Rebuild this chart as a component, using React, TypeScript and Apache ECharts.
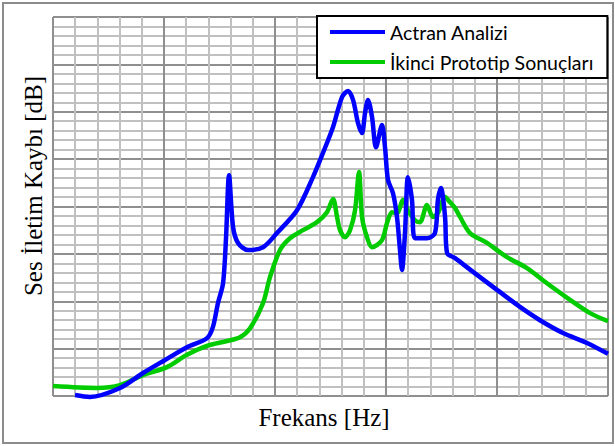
import React, { useEffect, useRef } from "react";
import * as echarts from "echarts";

const seriesNames = ["Actran Analizi", "İkinci Prototip Sonuçları"];

const actranFreq = [198, 333, 604, 811, 1009, 1207, 1387, 1441, 1486, 1532, 1559, 1586, 1622, 1667, 1757, 1892, 2018, 2198, 2342, 2432, 2523, 2604, 2658, 2703, 2748, 2784, 2811, 2838, 2874, 2910, 2964, 2991, 3018, 3063, 3099, 3126, 3144, 3171, 3198, 3234, 3261, 3369, 3441, 3468, 3495, 3532, 3550, 3622, 3784, 4000, 4207, 4387, 4595, 4811, 5000];
const actranTL = [0.2, -0.2, 1.7, 4.85, 7.6, 10.3, 12.2, 14.6, 19.6, 23.8, 33.5, 46.6, 35.7, 32.3, 30.8, 31.4, 34.4, 39.2, 46.2, 51.3, 56.8, 63.1, 64.4, 62.5, 57.6, 55.5, 59.7, 62.5, 58.9, 52.5, 57.2, 52.5, 45.6, 42.8, 37.8, 30.8, 26.6, 34.4, 46.2, 41.4, 33.3, 33.3, 34.4, 41.4, 43.9, 37.8, 30.2, 29.1, 26.2, 22.4, 18.8, 16.0, 13.3, 11.2, 8.9];

const prototypeFreq = [0, 396, 604, 811, 1027, 1207, 1387, 1568, 1685, 1775, 1892, 1955, 2045, 2135, 2252, 2378, 2468, 2523, 2559, 2586, 2631, 2676, 2721, 2757, 2784, 2829, 2874, 2964, 3009, 3054, 3099, 3153, 3198, 3261, 3306, 3369, 3423, 3468, 3532, 3577, 3622, 3667, 3757, 3910, 4090, 4270, 4450, 4658, 4838, 5000];
const prototypeTL = [2.1, 1.7, 2.3, 4.4, 6.1, 8.7, 10.6, 11.6, 12.4, 14.3, 19.6, 25.1, 30.8, 33.3, 35.0, 36.7, 38.8, 41.6, 37.8, 35.0, 33.5, 35.0, 39.2, 47.3, 37.8, 33.5, 31.4, 32.9, 36.5, 38.8, 38.6, 41.4, 39.2, 37.1, 36.7, 40.3, 37.8, 38.6, 42.0, 40.9, 39.7, 37.8, 34.4, 32.3, 29.3, 27.0, 23.8, 20.3, 17.5, 15.8];

const xTitle = "Frekans [Hz]";
const yTitle = "Ses İletim Kaybı [dB]";

const pair = (xs: number[], ys: number[]) => xs.map((x, i) => [x, ys[i]]);

export default function App() {
  const ref = useRef<HTMLDivElement>(null);
  useEffect(() => {
    if (!ref.current) return;
    const chart = echarts.init(ref.current, null, { renderer: "svg" });
    const axisCommon = {
      type: "value" as const,
      axisLabel: { show: false },
      axisTick: { show: false },
      axisLine: { show: false },
      splitLine: { show: true, lineStyle: { color: "#8f8f8f", width: 2 } },
      minorTick: { show: false, splitNumber: 5 },
      minorSplitLine: { show: true, lineStyle: { color: "#c0c0c0", width: 2 } },
    };
    chart.setOption({
      animation: false,
      backgroundColor: "#ffffff",
      grid: { left: 53, top: 17, right: 7, bottom: 50, containLabel: false },
      xAxis: { ...axisCommon, min: 0, max: 5000, interval: 1000 },
      yAxis: { ...axisCommon, min: 0, max: 80, interval: 10 },
      legend: {
        orient: "vertical",
        left: 317,
        top: 16,
        padding: [1, 14, 1, 13],
        itemGap: 0,
        itemWidth: 55,
        itemHeight: 4,
        backgroundColor: "#ffffff",
        borderColor: "#000000",
        borderWidth: 2,
        borderRadius: 0,
        textStyle: { fontFamily: "Lato", fontSize: 19.5, color: "#000000", lineHeight: 30, height: 30 },
        data: [
          { name: seriesNames[0], icon: "rect" },
          { name: seriesNames[1], icon: "rect" },
        ],
        z: 10,
      },
      graphic: [
        {
          type: "rect",
          shape: { x: 3, y: 3, width: 610, height: 440 },
          style: { fill: "none", stroke: "#8c8c8c", lineWidth: 2 },
          silent: true,
        },
        {
          type: "text",
          x: 324,
          y: 417,
          style: {
            text: xTitle,
            font: '25px "Liberation Serif", "Times New Roman", serif',
            fill: "#000000",
            align: "center",
            verticalAlign: "middle",
          },
        },
        {
          type: "text",
          x: 33,
          y: 186,
          rotation: Math.PI / 2,
          style: {
            text: yTitle,
            font: '25px "Liberation Serif", "Times New Roman", serif',
            fill: "#000000",
            align: "center",
            verticalAlign: "middle",
          },
        },
      ],
      series: [
        {
          name: seriesNames[0],
          type: "line",
          data: pair(actranFreq, actranTL),
          showSymbol: false,
          smooth: 0.3,
          clip: false,
          color: "#0000ff",
          lineStyle: { color: "#0000ff", width: 4.5 },
          z: 3,
        },
        {
          name: seriesNames[1],
          type: "line",
          data: pair(prototypeFreq, prototypeTL),
          showSymbol: false,
          smooth: 0.3,
          clip: false,
          color: "#00cc00",
          lineStyle: { color: "#00cc00", width: 4.5 },
          z: 2,
        },
      ],
    });
    return () => chart.dispose();
  }, []);
  return (
    <div
      ref={ref}
      style={{ position: "absolute", left: 0, top: 0, width: 615, height: 446 }}
    />
  );
}
